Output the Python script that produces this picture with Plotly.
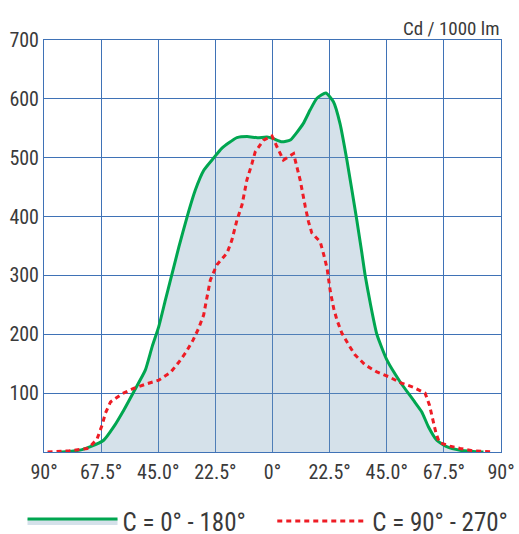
import plotly.graph_objects as go

# ---- data ----
x_tick_vals = [-90, -67.5, -45, -22.5, 0, 22.5, 45, 67.5, 90]
x_tick_text = ["90°", "67.5°", "45.0°", "22.5°", "0°", "22.5°", "45.0°", "67.5°", "90°"]
y_tick_vals = [100, 200, 300, 400, 500, 600, 700]
y_tick_text = ["100", "200", "300", "400", "500", "600", "700"]

green_name = "C = 0° - 180°"
green_deg = [-84.7, -80, -75, -71.7, -66.5, -62.5, -58.6, -54.7, -50.1, -47.4,
             -44.8, -42.2, -40.2, -36.9, -33.6, -30.4, -27, -23.1, -20, -16.6,
             -14, -10, -6, -2.2, 0, 3.7, 7.0, 12.1, 14.8, 17.5, 21.0,
             24.0, 26.6, 29.3, 33.2, 35.2, 36.5, 38.5, 41.1, 45.1, 50.3, 55.5,
             58.8, 61.4, 64.7, 68.6, 73.9, 79, 83.1]
green_val = [0, 1, 4, 9, 20, 43, 71, 102, 139, 179,
             213, 258, 292, 348, 400, 445, 479, 500, 516, 527,
             534, 536, 534, 535, 533, 527, 530, 558, 581, 601, 610,
             595, 558, 496, 394, 338, 300, 253, 200, 156, 119, 88,
             68, 43, 20, 9, 3, 1, 0]

red_name = "C = 90° - 270°"
red_deg = [-88.6, -80, -73, -71.7, -69.1, -67.1, -65.8, -63.8, -59.2, -54.7,
           -49.4, -44.8, -40.2, -37, -34, -31.3, -29.1, -27.1, -26.2, -25.2,
           -24.5, -21.9, -17.9, -16, -14, -12, -10.1, -8.1, -6.8, -3.5,
           -0.2, 1.7, 4.3, 8.3, 10.9, 12.9, 14.2, 15.5, 18.8, 20.2,
           21.5, 22.8, 24.1, 25.4, 27.3, 30, 32.5, 36.5, 41.1, 45.7,
           50.3, 55.5, 60.1, 61.8, 63.1, 64.4, 65.7, 69.9, 73.9, 79,
           86.8]
red_val = [0, 2, 6, 10, 22, 46, 66, 85, 99, 108,
           116, 122, 135, 152, 170, 190, 210, 233, 254, 276,
           292, 318, 338, 360, 394, 420, 462, 490, 510, 530,
           537, 519, 496, 507, 462, 417, 391, 372, 357, 335,
           312, 272, 244, 224, 202, 182, 165, 148, 136, 128,
           118, 110, 100, 80, 54, 32, 16, 10, 6, 2,
           0]

unit_label = "Cd / 1000 lm"

# ---- styles ----
FONT = "Roboto Condensed, Liberation Sans Narrow, DejaVu Sans Condensed, sans-serif"
TEXT_COLOR = "#3a3a3a"
GRID = "#3f72b6"
GREEN = "#00a650"
RED = "#ee1c25"

fig = go.Figure()
fig.add_trace(go.Scatter(
    x=green_deg, y=green_val, name=green_name, mode="lines",
    line=dict(color=GREEN, width=3, shape="spline", smoothing=0.5),
    fill="tozeroy", fillcolor="rgba(115,155,185,0.30)",
    legend="legend",
))
fig.add_trace(go.Scatter(
    x=red_deg, y=red_val, name=red_name, mode="lines",
    line=dict(color=RED, width=3, dash="5px,4px"),
    legend="legend2",
))

legend_common = dict(orientation="h", xanchor="left", y=-0.112, yanchor="top",
                     itemwidth=90, font=dict(size=25), bgcolor="rgba(0,0,0,0)")

fig.update_layout(
    width=519, height=534,
    margin=dict(l=43.5, r=18, t=40, b=82, autoexpand=False),
    paper_bgcolor="white", plot_bgcolor="white",
    font=dict(family=FONT, size=20, color=TEXT_COLOR),
    showlegend=True,
    legend=dict(x=-0.047, **legend_common),
    legend2=dict(x=0.4995, **legend_common),
    annotations=[dict(text=unit_label, xref="paper", yref="paper", x=1.0, y=1.0,
                      xanchor="right", yanchor="bottom", showarrow=False,
                      xshift=1, yshift=-2, font=dict(size=19))],
)
fig.update_xaxes(range=[-90, 90], tickvals=x_tick_vals, ticktext=x_tick_text,
                 showgrid=True, gridcolor=GRID, gridwidth=1,
                 showline=True, linecolor=GRID, linewidth=1, mirror=True,
                 zeroline=False, ticks="", ticklabelstandoff=2, fixedrange=True)
fig.update_yaxes(range=[0, 700], tickvals=y_tick_vals, ticktext=y_tick_text,
                 showgrid=True, gridcolor=GRID, gridwidth=1,
                 showline=True, linecolor=GRID, linewidth=1, mirror=True,
                 zeroline=False, ticks="", fixedrange=True)

fig.write_html("out.html", config={"displayModeBar": False},
               post_script="document.body.style.margin='0';")
